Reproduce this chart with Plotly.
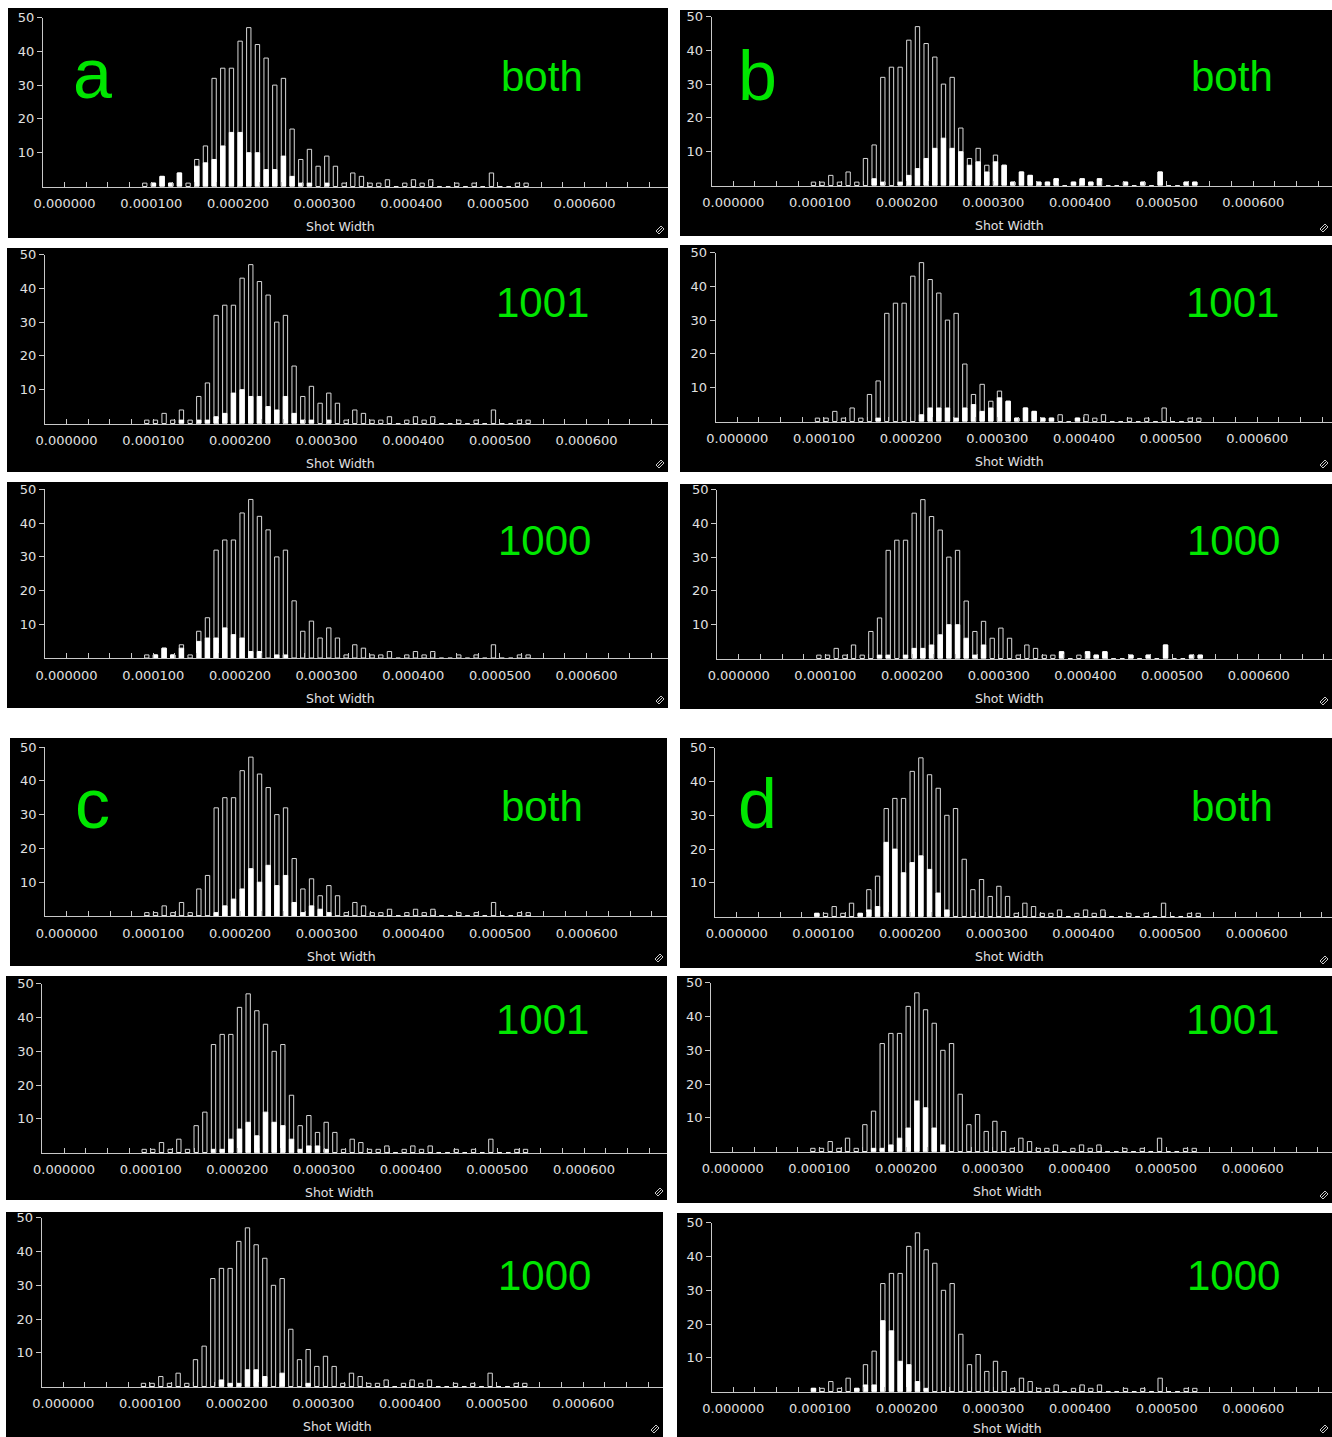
import plotly.graph_objects as go

W, H = 1332, 1437

# ---------------- data ----------------
BIN_LEFT = [0.000090, 0.000100, 0.000110, 0.000120, 0.000130, 0.000140, 0.000150, 0.000160, 0.000170, 0.000180,
            0.000190, 0.000200, 0.000210, 0.000220, 0.000230, 0.000240, 0.000250, 0.000260, 0.000270, 0.000280,
            0.000290, 0.000300, 0.000310, 0.000320, 0.000330, 0.000340, 0.000350, 0.000360, 0.000370, 0.000380,
            0.000390, 0.000400, 0.000410, 0.000420, 0.000430, 0.000440, 0.000450, 0.000460, 0.000470, 0.000480,
            0.000490, 0.000500, 0.000510, 0.000520, 0.000530]

TOTAL = [1, 1, 3, 1, 4, 1, 8, 12, 32, 35,
         35, 43, 47, 42, 38, 30, 32, 17, 8, 11,
         6, 9, 6, 1, 4, 3, 1, 1, 2, 0,
         1, 2, 1, 2, 0, 0, 1, 0, 1, 0,
         4, 0, 0, 1, 1]

A_BOTH = [0, 1, 3, 1, 4, 0, 6, 7, 8, 12,
          16, 16, 10, 10, 5, 5, 9, 3, 1, 1,
          0, 1, 0, 0, 0, 0, 0, 0, 0, 0,
          0, 0, 0, 0, 0, 0, 0, 0, 0, 0,
          0, 0, 0, 0, 0]
A_1001 = [0, 0, 0, 0, 1, 0, 1, 1, 2, 3,
          9, 10, 8, 8, 5, 4, 8, 3, 1, 1,
          0, 1, 0, 0, 0, 0, 0, 0, 0, 0,
          0, 0, 0, 0, 0, 0, 0, 0, 0, 0,
          0, 0, 0, 0, 0]
A_1000 = [0, 1, 3, 1, 3, 0, 5, 6, 6, 9,
          7, 6, 2, 2, 0, 1, 1, 0, 0, 0,
          0, 0, 0, 0, 0, 0, 0, 0, 0, 0,
          0, 0, 0, 0, 0, 0, 0, 0, 0, 0,
          0, 0, 0, 0, 0]

B_BOTH = [0, 0, 0, 0, 0, 0, 0, 2, 1, 0,
          1, 3, 5, 8, 11, 14, 11, 10, 6, 7,
          4, 7, 6, 1, 4, 3, 1, 1, 2, 0,
          1, 2, 1, 2, 0, 0, 1, 0, 1, 0,
          4, 0, 0, 1, 1]
B_1001 = [0, 0, 0, 0, 0, 0, 0, 1, 0, 0,
          0, 0, 2, 4, 4, 4, 1, 4, 5, 3,
          4, 7, 6, 1, 4, 3, 1, 1, 0, 0,
          1, 0, 0, 0, 0, 0, 0, 0, 0, 0,
          0, 0, 0, 0, 0]
B_1000 = [0, 0, 0, 0, 0, 0, 0, 1, 1, 0,
          1, 3, 3, 4, 7, 10, 10, 6, 1, 4,
          0, 0, 0, 0, 0, 0, 0, 0, 2, 0,
          0, 2, 1, 2, 0, 0, 1, 0, 1, 0,
          4, 0, 0, 1, 1]

C_BOTH = [0, 0, 0, 0, 0, 0, 0, 0, 1, 3,
          5, 8, 14, 10, 15, 9, 12, 4, 1, 3,
          2, 1, 0, 0, 0, 0, 0, 0, 0, 0,
          0, 0, 0, 0, 0, 0, 0, 0, 0, 0,
          0, 0, 0, 0, 0]
C_1001 = [0, 0, 0, 0, 0, 0, 0, 0, 1, 1,
          4, 7, 9, 5, 12, 9, 8, 4, 1, 2,
          2, 1, 0, 0, 0, 0, 0, 0, 0, 0,
          0, 0, 0, 0, 0, 0, 0, 0, 0, 0,
          0, 0, 0, 0, 0]
C_1000 = [0, 0, 0, 0, 0, 0, 0, 0, 0, 2,
          1, 1, 5, 5, 3, 0, 4, 0, 0, 1,
          0, 0, 0, 0, 0, 0, 0, 0, 0, 0,
          0, 0, 0, 0, 0, 0, 0, 0, 0, 0,
          0, 0, 0, 0, 0]

D_BOTH = [1, 0, 0, 0, 0, 1, 2, 3, 22, 20,
          13, 16, 18, 14, 7, 2, 0, 0, 0, 0,
          0, 0, 0, 0, 0, 0, 0, 0, 0, 0,
          0, 0, 0, 0, 0, 0, 0, 0, 0, 0,
          0, 0, 0, 0, 0]
D_1001 = [0, 0, 0, 0, 0, 0, 0, 1, 1, 2,
          4, 7, 15, 13, 7, 2, 0, 0, 0, 0,
          0, 0, 0, 0, 0, 0, 0, 0, 0, 0,
          0, 0, 0, 0, 0, 0, 0, 0, 0, 0,
          0, 0, 0, 0, 0]
D_1000 = [1, 0, 0, 0, 0, 1, 2, 2, 21, 18,
          9, 8, 3, 1, 0, 0, 0, 0, 0, 0,
          0, 0, 0, 0, 0, 0, 0, 0, 0, 0,
          0, 0, 0, 0, 0, 0, 0, 0, 0, 0,
          0, 0, 0, 0, 0]

XTICK_VALS = [0.0, 0.0001, 0.0002, 0.0003, 0.0004, 0.0005, 0.0006]
XTICK_TEXT = ["0.000000", "0.000100", "0.000200", "0.000300", "0.000400", "0.000500", "0.000600"]
YTICK_VALS = [10, 20, 30, 40, 50]
X_TITLE = "Shot Width"

# ---------------- layout specs (pixels) ----------------
# rect = (left, top, right, bottom) of the black panel; x0 = pixel of value 0; y0 = pixel of count 0
PANELS = [
    dict(data=A_BOTH, rect=(8, 8, 668, 238), x0=64.6, y0=186.5, letter="a", letter_xy=(92, 74), tag="both", tag_xy=(542, 77)),
    dict(data=A_1001, rect=(7, 248, 668, 472), x0=66.6, y0=423.5, letter=None, tag="1001", tag_xy=(542, 302)),
    dict(data=A_1000, rect=(7, 482, 668, 708), x0=66.6, y0=658.3, letter=None, tag="1000", tag_xy=(544, 540)),
    dict(data=C_BOTH, rect=(10, 738, 667, 966), x0=66.7, y0=916.0, letter="c", letter_xy=(92, 804), tag="both", tag_xy=(542, 806)),
    dict(data=C_1001, rect=(6, 976, 667, 1200), x0=64.0, y0=1152.7, letter=None, tag="1001", tag_xy=(542, 1019)),
    dict(data=C_1000, rect=(6, 1212, 663, 1437), x0=63.3, y0=1386.7, letter=None, tag="1000", tag_xy=(544, 1275)),
    dict(data=B_BOTH, rect=(680, 10, 1332, 236), x0=733.3, y0=185.5, letter="b", letter_xy=(757, 76), tag="both", tag_xy=(1232, 77)),
    dict(data=B_1001, rect=(680, 245, 1332, 472), x0=737.3, y0=421.5, letter=None, tag="1001", tag_xy=(1232, 302)),
    dict(data=B_1000, rect=(680, 484, 1332, 709), x0=738.7, y0=658.5, letter=None, tag="1000", tag_xy=(1233, 540)),
    dict(data=D_BOTH, rect=(680, 738, 1332, 968), x0=736.7, y0=916.7, letter="d", letter_xy=(757, 804), tag="both", tag_xy=(1232, 806)),
    dict(data=D_1001, rect=(677, 976, 1332, 1203), x0=732.7, y0=1151.7, letter=None, tag="1001", tag_xy=(1232, 1019)),
    dict(data=D_1000, rect=(677, 1213, 1332, 1437), x0=733.3, y0=1391.7, letter=None, tag="1000", tag_xy=(1233, 1275)),
]

PX_PER_UNIT = 866700.0   # pixels per unit of shot width
PX_PER_COUNT = 3.38
BAR_W = 0.0000050
AXIS_COL = "#c8c8c8"
TXT_COL = "#e0e0e0"
GREEN = "#00e600"
TICK_FONT = dict(family="DejaVu Sans", size=13, color=TXT_COL)


def px(x):
    return x / W


def py(y):
    return 1 - y / H


fig = go.Figure()
shapes = []
annotations = []
layout = {}

for i, p in enumerate(PANELS):
    n = i + 1
    sfx = "" if n == 1 else str(n)
    l, t, r, b = p["rect"]
    x0, y0 = p["x0"], p["y0"]
    axis_left = x0 - 0.000025 * PX_PER_UNIT
    y_top = y0 - 50 * PX_PER_COUNT

    shapes.append(dict(type="rect", xref="paper", yref="paper",
                       x0=px(l), x1=px(r), y0=py(b), y1=py(t),
                       fillcolor="black", line=dict(width=0), layer="below"))

    fig.add_trace(go.Bar(x=BIN_LEFT, y=TOTAL, offset=0, width=BAR_W,
                         marker=dict(color="black", line=dict(color="#d8d8d8", width=1)),
                         xaxis="x" + sfx, yaxis="y" + sfx, showlegend=False, hoverinfo="skip"))
    fig.add_trace(go.Bar(x=BIN_LEFT, y=p["data"], offset=0, width=BAR_W,
                         marker=dict(color="white", line=dict(color="white", width=1)),
                         xaxis="x" + sfx, yaxis="y" + sfx, showlegend=False, hoverinfo="skip"))

    layout["xaxis" + sfx] = dict(
        domain=[px(axis_left), px(r)], anchor="y" + sfx,
        range=[-0.000025, (r - x0) / PX_PER_UNIT],
        tickmode="array", tickvals=XTICK_VALS, ticktext=XTICK_TEXT,
        ticks="inside", ticklen=5, tickcolor=AXIS_COL, tickwidth=1,
        minor=dict(dtick=0.000025, tick0=0, ticks="inside", ticklen=5, tickcolor=AXIS_COL, tickwidth=1),
        showline=True, linecolor=AXIS_COL, linewidth=1,
        showgrid=False, zeroline=False, fixedrange=True, automargin=False,
        ticklabelstandoff=5,
        tickfont=TICK_FONT)
    layout["yaxis" + sfx] = dict(
        domain=[py(y0), py(y_top)], anchor="x" + sfx,
        range=[0, 50], tickmode="array", tickvals=YTICK_VALS,
        ticks="outside", ticklen=5, tickcolor=AXIS_COL, tickwidth=1,
        showline=True, linecolor=AXIS_COL, linewidth=1,
        showgrid=False, zeroline=False, fixedrange=True, automargin=False,
        tickfont=TICK_FONT)

    cx = (l + r) / 2 + 3
    title_y = min(y0 + 40, H - 9)
    annotations.append(dict(text=X_TITLE, xref="paper", yref="paper", x=px(cx), y=py(title_y),
                            xanchor="center", yanchor="middle", showarrow=False,
                            font=dict(family="DejaVu Sans", size=12.5, color=TXT_COL)))
    tx, ty = p["tag_xy"]
    annotations.append(dict(text=p["tag"], xref="paper", yref="paper", x=px(tx), y=py(ty),
                            xanchor="center", yanchor="middle", showarrow=False,
                            font=dict(family="Liberation Sans", size=42, color=GREEN)))
    if p["letter"]:
        lx, ly = p["letter_xy"]
        annotations.append(dict(text=p["letter"], xref="paper", yref="paper", x=px(lx), y=py(ly),
                                xanchor="center", yanchor="middle", showarrow=False,
                                font=dict(family="Liberation Sans", size=70, color=GREEN)))
    # small resize glyph in the lower right corner
    gx, gy = r - 8, b - 8
    shapes.append(dict(type="path", xref="paper", yref="paper",
                       path=(f"M {px(gx-4)} {py(gy+1)} L {px(gx+1)} {py(gy-4)} L {px(gx+4)} {py(gy-1)} "
                             f"L {px(gx-1)} {py(gy+4)} Z M {px(gx-2)} {py(gy+2)} L {px(gx+2)} {py(gy-2)}"),
                       line=dict(color=AXIS_COL, width=1)))

fig.update_layout(
    width=W, height=H, margin=dict(l=0, r=0, t=0, b=0, autoexpand=False),
    paper_bgcolor="white", plot_bgcolor="black",
    barmode="overlay", shapes=shapes, annotations=annotations,
    **layout)

fig.write_html("out.html", config={"displayModeBar": False},
               post_script="document.body.style.margin='0';document.body.style.overflow='hidden';")
